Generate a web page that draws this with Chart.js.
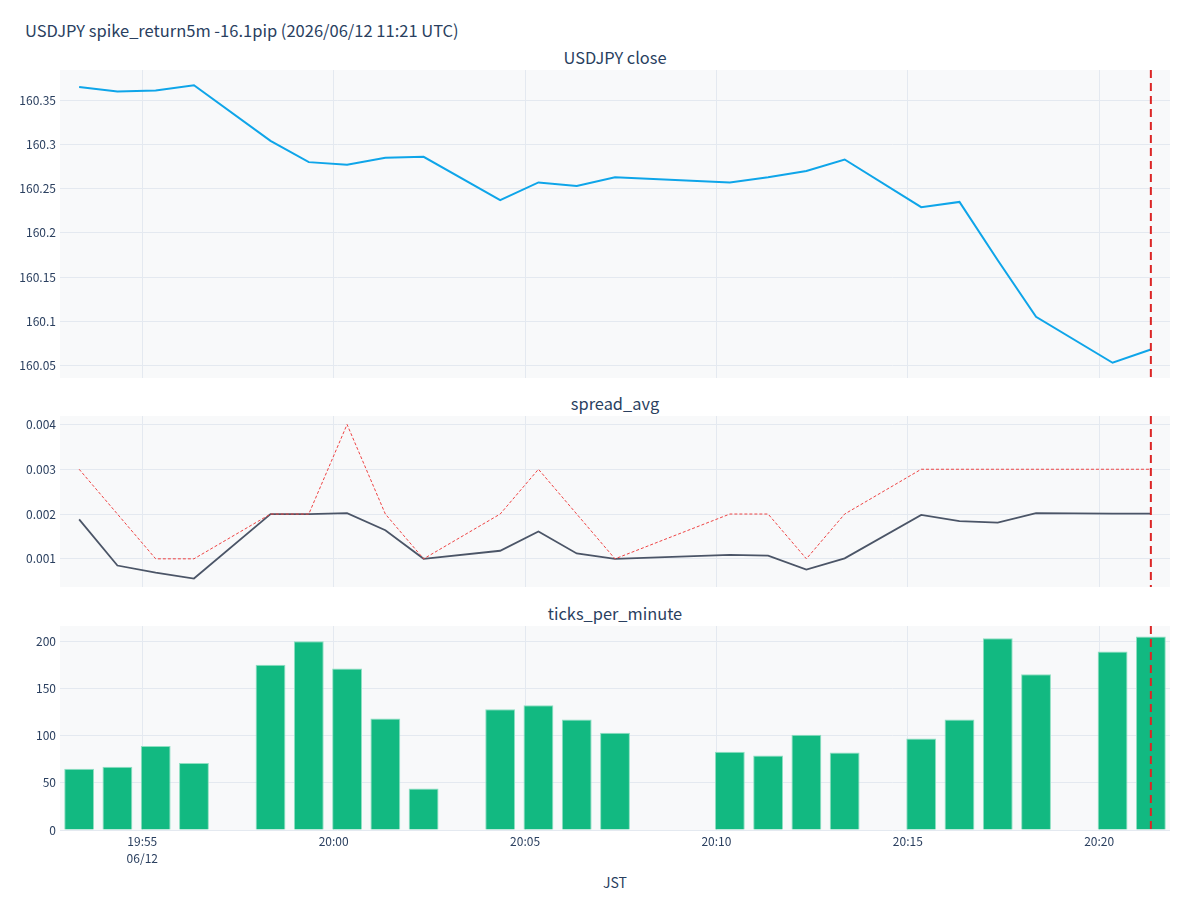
<!DOCTYPE html>
<html lang="ja">
<head>
<meta charset="utf-8">
<title>USDJPY spike_return5m</title>
<script src="https://cdn.jsdelivr.net/npm/chart.js@4.4.1/dist/chart.umd.min.js"></script>
<style>
  html, body { margin:0; padding:0; background:#fff; }
  body { width:1200px; height:900px; position:relative; overflow:hidden;
         font-family:"Noto Sans CJK JP","Noto Sans",sans-serif; color:#2a3f5f; }
  .txt { position:absolute; white-space:nowrap; }
  #title { left:25px; top:20px; font-size:16.5px; line-height:20px; }
  .sub { left:615px; transform:translateX(-50%); font-size:16.4px; line-height:20px; }
  #xtitle { font-size:14px; }
  .pane { position:absolute; left:0; }
</style>
</head>
<body>
<div class="txt" id="title">USDJPY spike_return5m -16.1pip (2026/06/12 11:21 UTC)</div>
<div class="txt sub" style="top:47px">USDJPY close</div>
<div class="txt sub" style="top:393px">spread_avg</div>
<div class="txt sub" style="top:603px">ticks_per_minute</div>
<div class="txt sub" id="xtitle" style="top:872px">JST</div>

<canvas class="pane" id="chart_close"  width="1200" height="308" style="top:70px"></canvas>
<canvas class="pane" id="chart_spread" width="1200" height="171" style="top:416px"></canvas>
<canvas class="pane" id="chart_ticks"  width="1200" height="244" style="top:626px"></canvas>

<script>
// minute bars (JST)
const TIMES = ['19:53:21','19:54:21','19:55:21','19:56:21','19:58:21','19:59:21','20:00:21','20:01:21',
               '20:02:21','20:04:21','20:05:21','20:06:21','20:07:21','20:10:21','20:11:21','20:12:21',
               '20:13:21','20:15:21','20:16:21','20:17:21','20:18:21','20:20:21','20:21:21'];
const CLOSE = [160.365,160.360,160.361,160.367,160.304,160.280,160.277,160.285,
               160.286,160.237,160.257,160.253,160.263,160.257,160.263,160.270,
               160.283,160.229,160.235,160.169,160.105,160.053,160.068];
const SPREAD_AVG = [0.00188,0.00085,0.00069,0.00056,0.00200,0.00200,0.00202,0.00164,
                    0.00100,0.00118,0.00161,0.00112,0.00100,0.00109,0.00107,0.00076,
                    0.00101,0.00198,0.00184,0.00181,0.00202,0.00201,0.00201];
const SPREAD_MAX = [0.003,0.002,0.001,0.001,0.002,0.002,0.004,0.002,
                    0.001,0.002,0.003,0.002,0.001,0.002,0.002,0.001,
                    0.002,0.003,0.003,0.003,0.003,0.003,0.003];
const TICKS_PER_MIN = [65,67,89,71,175,200,171,118,44,128,132,117,103,83,79,101,82,97,117,203,165,189,205];

const EVENT_TIME = '20:21:21';
const X_TICKS = ['19:55','20:00','20:05','20:10','20:15','20:20'];
const DATE_LABEL = '06/12';
const CLOSE_TICKS = [160.05,160.1,160.15,160.2,160.25,160.3,160.35];
const SPREAD_TICKS = [0.001,0.002,0.003,0.004];
const COUNT_TICKS = [0,50,100,150,200];

const FONT = '"Noto Sans CJK JP","Noto Sans",sans-serif';
const INK = '#2a3f5f';
const GRID = '#e4e9f0';

function toMin(t){ const p = t.split(':').map(Number); return p[0]*60 + p[1] + (p[2]||0)/60; }
function pts(vals){ return TIMES.map((t,i) => ({ x: toMin(t), y: vals[i] })); }
function padRange(lo, hi, f){ const d = (hi-lo)*f; return [lo-d, hi+d]; }
function noPad(s){ s.paddingTop = 0; s.paddingBottom = 0; s.paddingLeft = 0; s.paddingRight = 0; }

const X_MIN = toMin(TIMES[0]) - 0.5;
const X_MAX = toMin(TIMES[TIMES.length-1]) + 0.5;

Chart.defaults.font.family = FONT;
Chart.defaults.color = INK;

const plotBg = {
  id: 'plotBg',
  beforeDraw(chart){
    const a = chart.chartArea, c = chart.ctx;
    c.save(); c.fillStyle = '#f8f9fa'; c.fillRect(a.left, a.top, a.width, a.height); c.restore();
  }
};
const eventLine = {
  id: 'eventLine',
  afterDatasetsDraw(chart){
    const x = chart.scales.x.getPixelForValue(toMin(EVENT_TIME));
    const a = chart.chartArea, c = chart.ctx;
    c.save(); c.strokeStyle = '#dc2626'; c.lineWidth = 2; c.setLineDash([8,5]);
    c.beginPath(); c.moveTo(x, a.top); c.lineTo(x, a.bottom); c.stroke(); c.restore();
  }
};

function xAxis(showTicks){
  return {
    type: 'linear', min: X_MIN, max: X_MAX, offset: false,
    grid: { color: GRID, drawTicks: false, offset: false },
    border: { display: false },
    ticks: { display: showTicks, padding: 3, color: INK, autoSkip: false, maxRotation: 0,
             font: { size: 12, lineHeight: 1.4 },
             callback: (v, i) => i === 0 ? [X_TICKS[0], DATE_LABEL] : X_TICKS[i] },
    afterBuildTicks: s => { s.ticks = X_TICKS.map(t => ({ value: toMin(t) })); },
    afterFit: s => { s.height = showTicks ? 40 : 0; noPad(s); }
  };
}
function yAxis(range, tickVals){
  return {
    type: 'linear', min: range[0], max: range[1],
    grid: { color: GRID, drawTicks: false },
    border: { display: false },
    ticks: { color: INK, padding: 4, font: { size: 12 },
             callback: v => String(parseFloat(Number(v).toFixed(4))) },
    afterBuildTicks: s => { s.ticks = tickVals.map(v => ({ value: v })); },
    afterFit: s => { s.width = 60; noPad(s); }
  };
}
const common = {
  responsive: false, animation: false,
  layout: { padding: { left: 0, right: 30, top: 0, bottom: 0 } },
  plugins: { legend: { display: false }, tooltip: { enabled: false } },
  elements: { point: { radius: 0 }, line: { tension: 0 } }
};

const closeRange = padRange(Math.min(...CLOSE), Math.max(...CLOSE), 0.055);
new Chart(document.getElementById('chart_close'), {
  type: 'line',
  data: { datasets: [{ label: 'close', data: pts(CLOSE), borderColor: '#0ea5e9', borderWidth: 2 }] },
  options: Object.assign({}, common, { scales: { x: xAxis(false), y: yAxis(closeRange, CLOSE_TICKS) } }),
  plugins: [plotBg, eventLine]
});

const spreadRange = padRange(Math.min(...SPREAD_AVG, ...SPREAD_MAX), Math.max(...SPREAD_AVG, ...SPREAD_MAX), 0.055);
new Chart(document.getElementById('chart_spread'), {
  type: 'line',
  data: { datasets: [
    { label: 'spread_max', data: pts(SPREAD_MAX), borderColor: '#ef4444', borderWidth: 1, borderDash: [3,2] },
    { label: 'spread_avg', data: pts(SPREAD_AVG), borderColor: '#4b5567', borderWidth: 1.8 }
  ] },
  options: Object.assign({}, common, { scales: { x: xAxis(false), y: yAxis(spreadRange, SPREAD_TICKS) } }),
  plugins: [plotBg, eventLine]
});

new Chart(document.getElementById('chart_ticks'), {
  type: 'bar',
  data: { datasets: [{ label: 'ticks_per_minute', data: pts(TICKS_PER_MIN),
                       backgroundColor: '#12b981', borderColor: '#8fe0c2', borderWidth: 1,
                       barPercentage: 0.78, categoryPercentage: 1 }] },
  options: Object.assign({}, common, { scales: { x: xAxis(true), y: yAxis([0, Math.max(...TICKS_PER_MIN)*1.054], COUNT_TICKS) } }),
  plugins: [plotBg, eventLine]
});
</script>
</body>
</html>
